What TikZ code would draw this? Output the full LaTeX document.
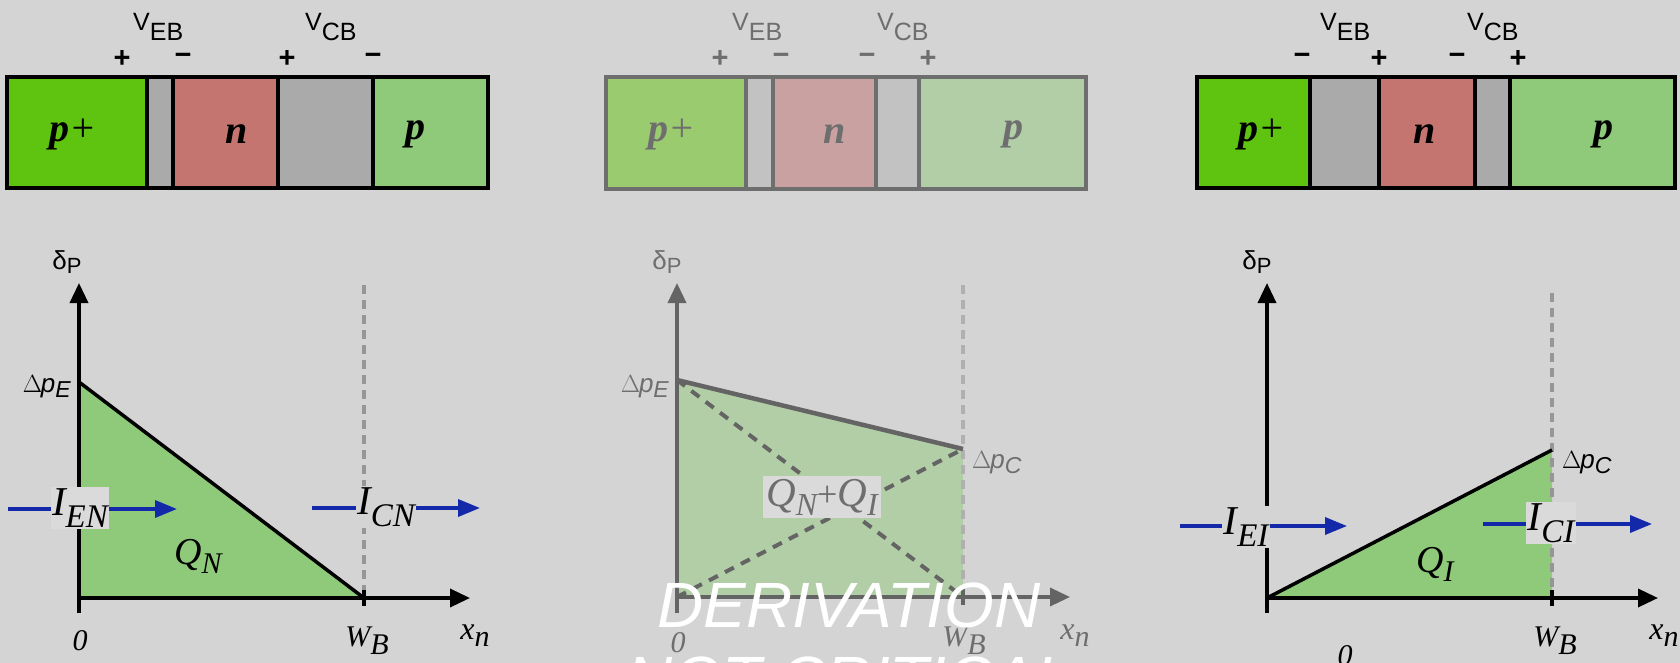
\documentclass[tikz,border=0pt]{standalone}
\usepackage{fontspec}
\setmainfont{Liberation Serif}
\newfontfamily\arialf{Liberation Sans}
\usetikzlibrary{arrows.meta}
\definecolor{bg}{RGB}{212,212,212}
\definecolor{lblbg}{RGB}{218,218,218}
\definecolor{pplus}{RGB}{94,196,16}
\definecolor{nreg}{RGB}{196,117,112}
\definecolor{dep}{RGB}{170,170,170}
\definecolor{preg}{RGB}{143,202,122}
\definecolor{fpplus}{RGB}{155,203,111}
\definecolor{fnreg}{RGB}{201,161,161}
\definecolor{fdep}{RGB}{194,194,194}
\definecolor{fpreg}{RGB}{177,206,166}
\definecolor{fgray}{RGB}{110,110,110}
\definecolor{fline}{RGB}{100,100,100}
\definecolor{arrblue}{RGB}{20,40,170}
\definecolor{dashgray}{RGB}{150,150,150}
\definecolor{fdashgray}{RGB}{176,176,176}
\newcommand{\mylab}[5]{{\fontsize{#1pt}{#1pt}\selectfont\itshape #3}\raisebox{-#5pt}{\fontsize{#2pt}{#2pt}\selectfont\itshape #4}}
\newcommand{\dpsub}[1]{{\arialf\fontsize{26pt}{26pt}\selectfont $\Delta$\hspace{-1pt}{\itshape p}}\raisebox{-5pt}{\arialf\itshape\fontsize{23pt}{23pt}\selectfont #1}}
\newcommand{\dlp}{{\arialf\fontsize{26pt}{26pt}\selectfont δ}\raisebox{-4pt}{\arialf\fontsize{22pt}{22pt}\selectfont P}}
\tikzset{
  region/.style={line width=4.5pt, draw=black},
  fregion/.style={line width=4.5pt, draw=fgray},
  barlbl/.style={font=\fontsize{40pt}{40pt}\selectfont\bfseries\itshape, inner sep=0pt},
  vlbl/.style={font=\arialf\fontsize{25pt}{25pt}\selectfont, inner sep=0pt, anchor=base west},
  sgn/.style={font=\arialf\bfseries\fontsize{29pt}{29pt}\selectfont, inner sep=0pt},
  axis/.style={line width=3.5pt, -{Triangle[length=20pt,width=18pt]}},
  faxis/.style={line width=3.5pt, draw=fline, fline, -{Triangle[length=20pt,width=18pt]}},
  tick/.style={line width=3.5pt},
  cur/.style={line width=3.5pt, draw=arrblue, arrblue, -{Triangle[length=22pt,width=17pt]}},
  vdash/.style={line width=3.5pt, draw=dashgray, dash pattern=on 9pt off 6pt},
  fvdash/.style={line width=3.5pt, draw=fdashgray, dash pattern=on 9pt off 6pt},
  ddash/.style={line width=4pt, draw=fline, dash pattern=on 10pt off 8pt},
  hyp/.style={line width=3.5pt},
  clbl/.style={fill=lblbg, inner sep=1.5pt},
  glbl/.style={inner sep=0pt},
  wm/.style={font=\arialf\itshape\fontsize{64pt}{64pt}\selectfont, text=white, inner sep=0pt, anchor=base}
}
\begin{document}
\begin{tikzpicture}[x=1pt,y=-1pt]
\useasboundingbox (0,0) rectangle (1680,663);
\fill[bg] (0,0) rectangle (1680,663);
\clip (0,0) rectangle (1680,663);

% ===================== Panel 1 =====================
\draw[region, fill=pplus] (7,77) rectangle (147,188);
\draw[region, fill=dep] (147,77) rectangle (173,188);
\draw[region, fill=nreg] (173,77) rectangle (278,188);
\draw[region, fill=dep] (278,77) rectangle (373,188);
\draw[region, fill=preg] (373,77) rectangle (488,188);
\node[barlbl] (a1) at (73,134) {p{\mdseries+}};
\node[barlbl] (a2) at (237,134) {n};
\node[barlbl] (a3) at (415,134) {p};
\node[vlbl] (a4) at (133,31) {V\raisebox{-10pt}{EB}};
\node[vlbl] (a5) at (305,31) {V\raisebox{-10pt}{CB}};
\node[sgn] (a6) at (122,59) {+};
\node[sgn] (a7) at (183,59) {−};
\node[sgn] (a8) at (287,59) {+};
\node[sgn] (a9) at (373,59) {−};

\coordinate (o1) at (79,598);
\coordinate (y1b) at (79,613);
\coordinate (y1t) at (79,283);
\coordinate (x1e) at (470,598);
\coordinate (e1) at (79,382);
\coordinate (w1) at (364,598);
\coordinate (w1t) at (364,285);
\fill[preg] (e1) -- (w1) -- (o1) -- cycle;
\draw[vdash] (w1t) -- (w1);
\draw[hyp] (e1) -- (w1);
\draw[axis] (y1b) -- (y1t);
\draw[axis] (o1) -- (x1e);
\draw[tick] (364,590) -- (364,606);
\coordinate (ien0) at (8,509);
\coordinate (ien1) at (177,509);
\draw[cur] (ien0) -- (ien1);
\node[clbl] (ien) at (80,508) {\mylab{41}{33}{I}{EN}{12}};
\coordinate (icn0) at (312,508);
\coordinate (icn1) at (480,508);
\draw[cur] (icn0) -- (icn1);
\node[clbl, fill=bg] (icn) at (386,507) {\mylab{41}{33}{I}{CN}{12}};
\node[glbl] (qn) at (198,556) {\mylab{38}{30}{Q}{N}{9}};
\node[glbl] (d1) at (67,262) {\dlp};
\node[glbl, anchor=east] (pe1) at (71,387) {\dpsub{E}};
\node[glbl] (z1) at (80,641) {\fontsize{30pt}{30pt}\selectfont\itshape 0};
\node[glbl] (wb1) at (367,641) {\mylab{30}{30}{W}{B}{8}};
\node[glbl] (xn1) at (475,636) {\mylab{32}{30}{x}{n}{7}};

% ===================== Panel 2 =====================
\draw[fregion, fill=fpplus] (606,77) rectangle (746,189);
\draw[fregion, fill=fdep] (746,77) rectangle (773,189);
\draw[fregion, fill=fnreg] (773,77) rectangle (876,189);
\draw[fregion, fill=fdep] (876,77) rectangle (919,189);
\draw[fregion, fill=fpreg] (919,77) rectangle (1086,189);
\node[barlbl, text=fgray] (b1) at (672,134) {p{\mdseries+}};
\node[barlbl, text=fgray] (b2) at (835,134) {n};
\node[barlbl, text=fgray] (b3) at (1013,134) {p};
\node[vlbl, text=fgray] (b4) at (732,31) {V\raisebox{-10pt}{EB}};
\node[vlbl, text=fgray] (b5) at (877,31) {V\raisebox{-10pt}{CB}};
\node[sgn, text=fgray] (b6) at (720,59) {+};
\node[sgn, text=fgray] (b7) at (781,59) {−};
\node[sgn, text=fgray] (b8) at (867,59) {−};
\node[sgn, text=fgray] (b9) at (928,59) {+};

\coordinate (o2) at (677,597);
\coordinate (y2b) at (677,613);
\coordinate (y2t) at (677,283);
\coordinate (x2e) at (1070,597);
\coordinate (e2) at (677,380);
\coordinate (c2) at (963,449);
\coordinate (w2) at (963,597);
\coordinate (w2t) at (963,285);
\fill[fpreg] (e2) -- (c2) -- (w2) -- (o2) -- cycle;
\draw[fvdash] (w2t) -- (w2);
\draw[ddash] (e2) -- (w2);
\draw[ddash] (o2) -- (c2);
\draw[line width=4.5pt, draw=fline] (e2) -- (c2);
\draw[faxis] (y2b) -- (y2t);
\draw[faxis] (o2) -- (x2e);
\draw[tick, draw=fline] (963,589) -- (963,605);
\node[clbl, text=fgray, inner sep=3pt] (qnqi) at (822,497) {\mylab{41}{32}{Q}{N}{9}{\fontsize{36pt}{36pt}\selectfont +}\mylab{41}{32}{Q}{I}{9}};
\node[glbl, text=fgray] (d2) at (667,262) {\dlp};
\node[glbl, text=fgray, anchor=east] (pe2) at (669,387) {\dpsub{E}};
\node[glbl, text=fgray, anchor=west] (pc2) at (972,463) {\dpsub{C}};
\node[glbl, text=fgray] (z2) at (678,643) {\fontsize{30pt}{30pt}\selectfont\itshape 0};
\node[glbl, text=fgray] (wb2) at (964,641) {\mylab{30}{30}{W}{B}{8}};
\node[glbl, text=fgray] (xn2) at (1075,636) {\mylab{32}{30}{x}{n}{7}};

% ===================== Panel 3 =====================
\draw[region, fill=pplus] (1197,77) rectangle (1310,188);
\draw[region, fill=dep] (1310,77) rectangle (1379,188);
\draw[region, fill=nreg] (1379,77) rectangle (1475,188);
\draw[region, fill=dep] (1475,77) rectangle (1510,188);
\draw[region, fill=preg] (1510,77) rectangle (1675,188);
\node[barlbl] (c1) at (1262,134) {p{\mdseries+}};
\node[barlbl] (c2l) at (1425,134) {n};
\node[barlbl] (c3) at (1603,134) {p};
\node[vlbl] (c4) at (1320,31) {V\raisebox{-10pt}{EB}};
\node[vlbl] (c5) at (1467,31) {V\raisebox{-10pt}{CB}};
\node[sgn] (c6) at (1302,59) {−};
\node[sgn] (c7) at (1379,59) {+};
\node[sgn] (c8) at (1457,59) {−};
\node[sgn] (c9) at (1518,59) {+};

\coordinate (o3) at (1267,598);
\coordinate (y3b) at (1267,613);
\coordinate (y3t) at (1267,283);
\coordinate (x3e) at (1658,598);
\coordinate (c3p) at (1552,450);
\coordinate (w3) at (1552,598);
\coordinate (w3t) at (1552,293);
\fill[preg] (o3) -- (c3p) -- (w3) -- cycle;
\draw[vdash] (w3t) -- (w3);
\draw[hyp] (o3) -- (c3p);
\draw[axis] (y3b) -- (y3t);
\draw[axis] (o3) -- (x3e);
\draw[tick] (1552,590) -- (1552,606);
\coordinate (iei0) at (1180,526);
\coordinate (iei1) at (1347,526);
\draw[cur] (iei0) -- (iei1);
\node[clbl, fill=bg] (iei) at (1246,527) {\mylab{41}{33}{I}{EI}{12}};
\coordinate (ici0) at (1483,524);
\coordinate (ici1) at (1652,524);
\draw[cur] (ici0) -- (ici1);
\node[clbl] (ici) at (1551,523) {\mylab{41}{33}{I}{CI}{12}};
\node[glbl] (qi) at (1435,564) {\mylab{38}{30}{Q}{I}{9}};
\node[glbl] (d3) at (1257,262) {\dlp};
\node[glbl, anchor=west] (pc3) at (1562,463) {\dpsub{C}};
\node[glbl] (z3) at (1345,656) {\fontsize{30pt}{30pt}\selectfont\itshape 0};
\node[glbl] (wb3) at (1555,641) {\mylab{30}{30}{W}{B}{8}};
\node[glbl] (xn3) at (1664,636) {\mylab{32}{30}{x}{n}{7}};

% ===================== Watermark =====================
\node[wm] (wm1) at (849,627) {DERIVATION};
\node[wm] (wm2) at (849,701) {NOT CRITICAL};
\end{tikzpicture}
\end{document}
